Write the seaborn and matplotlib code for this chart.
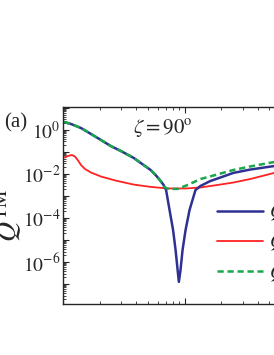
import matplotlib
matplotlib.use("Agg")
import matplotlib.pyplot as plt
import matplotlib.ticker as mticker
import numpy as np
import pandas as pd
import seaborn as sns

# values (x log scale, y log scale)
x_blue = [1.02, 1.163, 1.405, 1.696, 2.05, 2.47, 2.99, 3.82, 4.36, 5.26, 5.78, 6.36,
          6.73, 7.05, 7.53, 8.05, 8.44, 8.77, 8.98, 9.27, 9.63, 10.19, 10.99, 12.3,
          13.5, 16.3, 19.7, 25.2, 34.7, 54.7, 89.3, 100.0]
q_blue = [2.31, 1.87, 1.23, 0.66, 0.351, 0.187, 0.111, 0.0535, 0.0316, 0.0152,
          0.0090, 0.0048, 0.00316, 1.86e-3, 2.3e-4, 2.8e-5, 3.5e-6, 4.4e-7, 1.26e-7,
          4.4e-7, 3.5e-6, 2.8e-5, 2.3e-4, 1.86e-3, 2.85e-3, 4.8e-3, 6.9e-3, 0.0112,
          0.0159, 0.023, 0.033, 0.037]

x_red = [1.02, 1.099, 1.185, 1.254, 1.33, 1.405, 1.515, 1.696, 2.05, 2.72, 3.82,
         5.26, 7.26, 10.2, 13.5, 18.6, 25.2, 34.7, 54.7, 89.3, 100.0]
q_red = [0.056, 0.066, 0.073, 0.062, 0.041, 0.0257, 0.017, 0.0117, 0.0077, 0.0050,
         0.0033, 0.0026, 0.0022, 0.0022, 0.00244, 0.00316, 0.0041, 0.0059, 0.0112,
         0.023, 0.027]

x_green = [1.02, 1.163, 1.405, 1.696, 2.05, 2.47, 2.99, 3.82, 4.36, 5.26, 5.78, 6.36,
           6.73, 7.12, 7.68, 8.77, 10.8, 13.5, 18.6, 25.2, 34.7, 54.7, 89.3, 100.0]
q_green = [2.31, 1.87, 1.23, 0.66, 0.351, 0.187, 0.111, 0.0535, 0.0316, 0.0152,
           0.0090, 0.0048, 2.8e-3, 2.2e-3, 2.1e-3, 2.1e-3, 3.3e-3, 5.9e-3, 9.5e-3,
           0.0152, 0.022, 0.035, 0.050, 0.054]

labels = ["$Q_{\\mathrm{ext}}$", "$Q_{\\mathrm{abs}}$", "$Q_{\\mathrm{sca}}$"]

sns.set_style("ticks")
plt.rcParams["font.family"] = ["Liberation Serif", "DejaVu Serif"]
plt.rcParams["mathtext.fontset"] = "stix"

fig = plt.figure(figsize=(2.74, 3.55), dpi=100)
ax = fig.add_axes([0.230, 0.144, 0.887, 0.555])

df_red = pd.DataFrame({"x": x_red, "q": q_red})
df_blue = pd.DataFrame({"x": x_blue, "q": q_blue})
df_green = pd.DataFrame({"x": x_green, "q": q_green})

sns.lineplot(data=df_red, x="x", y="q", ax=ax, color="#ff2222", lw=1.3, label=labels[1])
sns.lineplot(data=df_blue, x="x", y="q", ax=ax, color="#2e3192", lw=1.8, label=labels[0])
sns.lineplot(data=df_green, x="x", y="q", ax=ax, color="#1aa64a", lw=1.8,
             dashes=(2.5, 1.5), label=labels[2])

ax.set_xscale("log")
ax.set_yscale("log")
ax.set_xlim(1, 100)
ax.set_ylim(10 ** -7.9, 10 ** 1.05)

ax.yaxis.set_major_locator(mticker.LogLocator(base=10, numticks=20))
ax.yaxis.set_minor_locator(mticker.LogLocator(base=10, subs=np.arange(2, 10), numticks=20))
ax.yaxis.set_major_formatter(mticker.FuncFormatter(
    lambda v, p: "$10^{%d}$" % round(np.log10(v)) if round(np.log10(v)) % 2 == 0 else ""))
ax.yaxis.set_minor_formatter(mticker.NullFormatter())
ax.xaxis.set_major_formatter(mticker.NullFormatter())
ax.xaxis.set_minor_formatter(mticker.NullFormatter())

ax.tick_params(which="both", direction="in", top=True, right=True, labelsize=14, pad=2)
ax.tick_params(which="major", length=4, width=0.8)
ax.tick_params(which="minor", length=2, width=0.6)
for s in ax.spines.values():
    s.set_linewidth(1.0)

ax.set_xlabel("")
ax.set_ylabel("$Q^{\\mathrm{TM}}$", fontsize=20)
ax.yaxis.set_label_coords(-0.16, 0.45)

fig.text(0.015, 0.655, "(a)", fontsize=15, va="center")
ax.text(0.41, 0.89, "$\\zeta = 90^{\\mathrm{o}}$", transform=ax.transAxes,
        fontsize=15, ha="center", va="center")

# legend order: blue, red, green
h, l = ax.get_legend_handles_labels()
order = [1, 0, 2]
ax.legend([h[i] for i in order], [l[i] for i in order], frameon=False, fontsize=14,
          loc="upper left", bbox_to_anchor=(0.6, 0.555), handlelength=2.4,
          handletextpad=0.3, labelspacing=0.47, borderaxespad=0)

fig.savefig("out.png", dpi=100)
